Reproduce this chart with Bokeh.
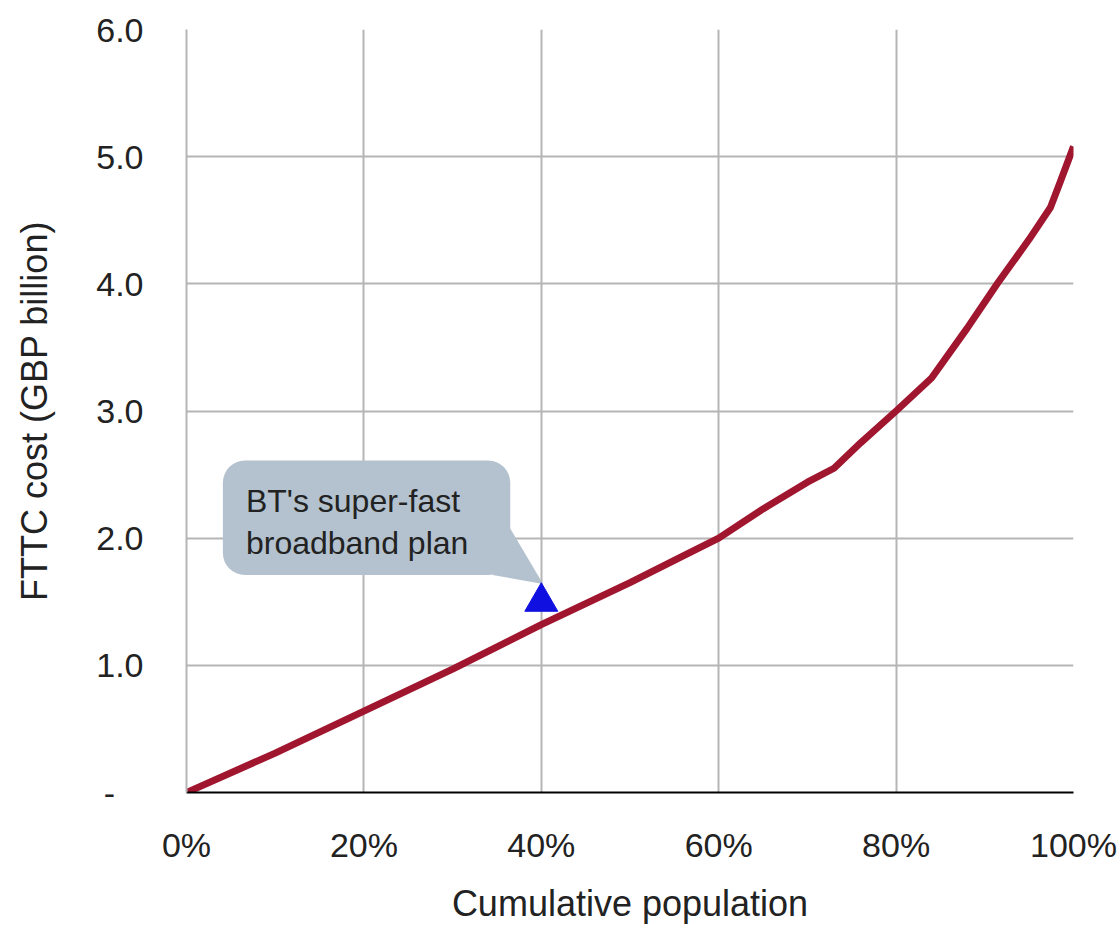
from bokeh.plotting import figure
from bokeh.models import Range1d, FixedTicker
from bokeh.core.properties import value
from bokeh.embed import file_html
from bokeh.resources import INLINE

# ---- data ----
population_pct = [0, 10, 20, 30, 40, 50, 56, 60, 65, 70, 73, 76, 80, 84, 88, 91.4, 95, 97.4, 98.5, 100]
fttc_cost_bn = [0, 0.31, 0.64, 0.97, 1.32, 1.65, 1.86, 2.0, 2.23, 2.44, 2.55, 2.75, 3.0, 3.26, 3.65, 4.0, 4.35, 4.6, 4.8, 5.08]

bt_plan_x = [40]
bt_plan_y = [1.5]
bt_label_lines = ["BT's super-fast", "broadband plan"]

x_ticks = [0, 20, 40, 60, 80, 100]
x_tick_labels = ["0%", "20%", "40%", "60%", "80%", "100%"]
y_ticks = [0, 1, 2, 3, 4, 5, 6]
y_tick_labels = ["-\u00a0\u00a0\u00a0", "1.0", "2.0", "3.0", "4.0", "5.0", "6.0"]

FONT = "Liberation Sans"
TXT = "#222222"

p = figure(width=1120, height=929, output_backend="svg", toolbar_location=None,
           x_range=Range1d(0, 100), y_range=Range1d(0, 6),
           min_border_left=186, min_border_right=47, min_border_top=29, min_border_bottom=137)
p.outline_line_color = None
p.background_fill_color = "white"
p.border_fill_color = "white"

# grid
for g in (p.xgrid, p.ygrid):
    g.grid_line_color = "#b5b5b5"
    g.grid_line_width = 2
p.xgrid.ticker = FixedTicker(ticks=x_ticks)
p.ygrid.ticker = FixedTicker(ticks=y_ticks)

# axes
xa = p.xaxis[0]
xa.ticker = FixedTicker(ticks=x_ticks)
xa.major_label_overrides = dict(zip(x_ticks, x_tick_labels))
xa.axis_line_color = "black"
xa.axis_line_width = 2
xa.major_tick_line_color = None
xa.minor_tick_line_color = None
xa.major_label_standoff = 27
xa.axis_label = "Cumulative population"
xa.axis_label_standoff = 16

ya = p.yaxis[0]
ya.ticker = FixedTicker(ticks=y_ticks)
ya.major_label_overrides = dict(zip(y_ticks, y_tick_labels))
ya.axis_line_color = "#b5b5b5"
ya.axis_line_width = 2
ya.major_tick_line_color = None
ya.minor_tick_line_color = None
ya.major_label_standoff = 37
ya.axis_label = "FTTC cost (GBP billion)"
ya.axis_label_standoff = 38

for ax in (xa, ya):
    ax.major_label_text_font = FONT
    ax.major_label_text_font_size = "34px"
    ax.major_label_text_color = TXT
    ax.axis_label_text_font = FONT
    ax.axis_label_text_font_size = "36px"
    ax.axis_label_text_font_style = "normal"
    ax.axis_label_text_color = TXT

# curve
p.line(population_pct, fttc_cost_bn, line_color="#a0162f", line_width=7, line_join="round")

# callout box (anchored relative to the BT plan point)
ax0, ay0 = bt_plan_x[0], bt_plan_y[0]
box_left, box_right = ax0 - 35.9, ax0 - 3.5
box_bottom, box_top = ay0 + 0.21, ay0 + 1.11
p.quad(left=[box_left], right=[box_right], bottom=[box_bottom], top=[box_top],
       fill_color="#b3c2ce", line_color=None, border_radius=22)
p.patch([box_right - 0.3, ax0 + 0.2, box_right - 2.0],
        [ay0 + 0.61, ay0 + 0.14, ay0 + 0.21],
        fill_color="#b3c2ce", line_color=None)
p.text(x=[box_left + 2.6, box_left + 2.6], y=[ay0 + 0.79, ay0 + 0.46], text=bt_label_lines,
       text_font=value(FONT), text_font_size="32px", text_color=TXT,
       text_baseline="alphabetic", text_align="left")

# BT plan marker
p.scatter(bt_plan_x, bt_plan_y, marker="triangle", size=33, fill_color="#1010e0", line_color="#1010e0")

open("out.html", "w").write(file_html(p, INLINE))
